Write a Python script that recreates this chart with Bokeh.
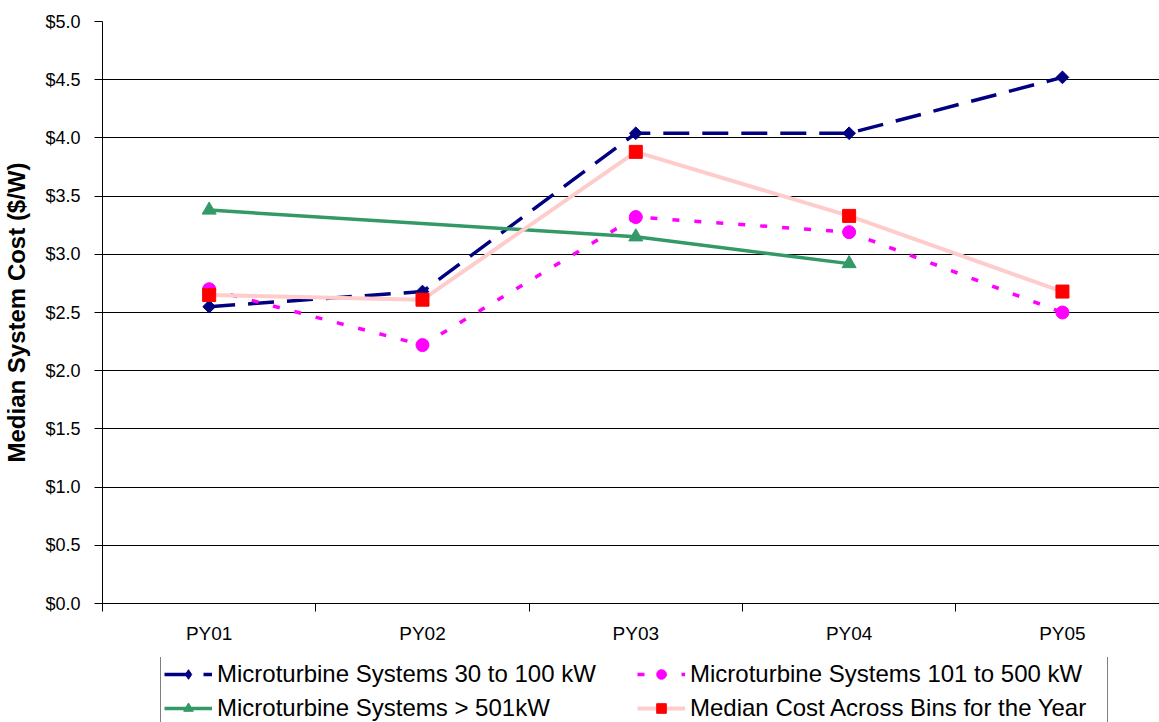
import math
from bokeh.plotting import figure
from bokeh.layouts import column
from bokeh.models import (Range1d, FixedTicker, NumeralTickFormatter, Legend,
                          LegendItem, ColumnDataSource)
from bokeh.embed import file_html
from bokeh.resources import INLINE

# Median installed cost by program year and system size bin ($/W)
years = ["PY01", "PY02", "PY03", "PY04", "PY05"]
cost_30_100 = [2.55, 2.68, 4.04, 4.04, 4.52]
cost_101_500 = [2.70, 2.22, 3.32, 3.19, 2.50]
cost_over_501 = [3.38, None, 3.15, 2.92, None]
cost_median = [2.65, 2.61, 3.88, 3.33, 2.68]

labels = ["Microturbine Systems 30 to 100 kW",
          "Microturbine Systems 101 to 500 kW",
          "Microturbine Systems > 501kW",
          "Median Cost Across Bins for the Year"]

FONT = "Liberation Sans"

# series styling: line kwargs, marker kwargs
styles = [
    (dict(line_color="#000080", line_width=3.5, line_dash="26 13"),
     dict(marker="square", angle=math.pi / 4, size=9,
          fill_color="#000080", line_color="#000080")),
    (dict(line_color="#FF00FF", line_width=3.5, line_dash="7 15"),
     dict(marker="circle", size=13, fill_color="#FF00FF", line_color="#FF00FF")),
    (dict(line_color="#339966", line_width=3.5),
     dict(marker="triangle", size=14, fill_color="#339966", line_color="#339966")),
    (dict(line_color="#FFCCCC", line_width=4),
     dict(marker="square", size=13, fill_color="#FF0000", line_color="#FF0000")),
]

# the legend swatch cannot rotate a square, so it uses Bokeh's diamond there
legend_marker = [dict(marker="diamond", angle=0, size=13), {}, {}, {}]

# category i sits at the middle of slot [i, i+1]
xpos = [i + 0.5 for i in range(len(years))]


def series(values):
    xs = [x for x, v in zip(xpos, values) if v is not None]
    ys = [v for v in values if v is not None]
    return ColumnDataSource(dict(x=xs, y=ys))


sources = [series(v) for v in
           [cost_30_100, cost_101_500, cost_over_501, cost_median]]

p = figure(width=1159, height=657, output_backend="svg", toolbar_location=None,
           x_range=Range1d(0, 4.955), y_range=Range1d(0, 5),
           min_border_left=101, min_border_right=0, min_border_top=21,
           min_border_bottom=54)
p.outline_line_color = None
p.background_fill_color = "white"
p.border_fill_color = "white"

# y axis
p.yaxis.ticker = FixedTicker(ticks=[i * 0.5 for i in range(11)])
p.yaxis.formatter = NumeralTickFormatter(format="$0.0")
p.yaxis.major_tick_out = 8
p.yaxis.major_tick_in = 0
p.yaxis.minor_tick_out = 0
p.yaxis.minor_tick_in = 0
p.yaxis.major_label_standoff = 14
p.yaxis.major_label_text_font = FONT
p.yaxis.major_label_text_font_size = "18px"
p.yaxis.major_label_text_color = "black"
p.yaxis.axis_line_color = "black"
p.yaxis.major_tick_line_color = "black"
p.yaxis.axis_label = "Median System Cost ($/W)"
p.yaxis.axis_label_text_font = FONT
p.yaxis.axis_label_text_font_style = "bold"
p.yaxis.axis_label_text_font_size = "24px"
p.yaxis.axis_label_text_color = "black"
p.yaxis.axis_label_standoff = 12

# x axis: labels at slot centres, tick marks at slot boundaries
p.xaxis.ticker = FixedTicker(ticks=xpos, minor_ticks=[0, 1, 2, 3, 4, 5])
p.xaxis.major_label_overrides = {x: y for x, y in zip(xpos, years)}
p.xaxis.major_tick_out = 0
p.xaxis.major_tick_in = 0
p.xaxis.minor_tick_out = 8
p.xaxis.minor_tick_in = 0
p.xaxis.minor_tick_line_color = "black"
p.xaxis.axis_line_color = "black"
p.xaxis.major_label_standoff = 11
p.xaxis.major_label_text_font = FONT
p.xaxis.major_label_text_font_size = "19px"
p.xaxis.major_label_text_color = "black"

p.xgrid.grid_line_color = None
p.ygrid.ticker = FixedTicker(ticks=[i * 0.5 for i in range(1, 11)])
p.ygrid.grid_line_color = "black"
p.ygrid.grid_line_width = 1

# data series
for src, (line_kw, marker_kw) in zip(sources, styles):
    p.line("x", "y", source=src, **line_kw)
    p.scatter("x", "y", source=src, **marker_kw)

# legend strip underneath the chart; its renderers share the series
# sources but its view window lies away from the data
lg = figure(width=1159, height=65, output_backend="svg", toolbar_location=None,
            x_range=Range1d(-10, -9), y_range=Range1d(-10, -9),
            x_axis_type=None, y_axis_type=None,
            min_border_left=101, min_border_right=0, min_border_top=0,
            min_border_bottom=0)
lg.outline_line_color = None
lg.xgrid.grid_line_color = None
lg.ygrid.grid_line_color = None

items = []
for label, src, (line_kw, marker_kw), swap in zip(labels, sources, styles,
                                                  legend_marker):
    r_line = lg.line("x", "y", source=src, **line_kw)
    r_mark = lg.scatter("x", "y", source=src, **{**marker_kw, **swap})
    items.append(LegendItem(label=label, renderers=[r_line, r_mark]))

legend = Legend(items=items, location=(58, -4), orientation="horizontal",
                ncols=2)
legend.label_text_font = FONT
legend.label_text_font_size = "24px"
legend.label_text_color = "black"
legend.glyph_width = 48
legend.glyph_height = 24
legend.label_standoff = 5
legend.label_width = 414
legend.spacing = 6
legend.padding = 3
legend.margin = 0
legend.border_line_color = "black"
legend.border_line_width = 1
legend.background_fill_color = "white"
legend.background_fill_alpha = 1
lg.add_layout(legend, "center")

open("out.html", "w").write(file_html(column(p, lg), INLINE))
